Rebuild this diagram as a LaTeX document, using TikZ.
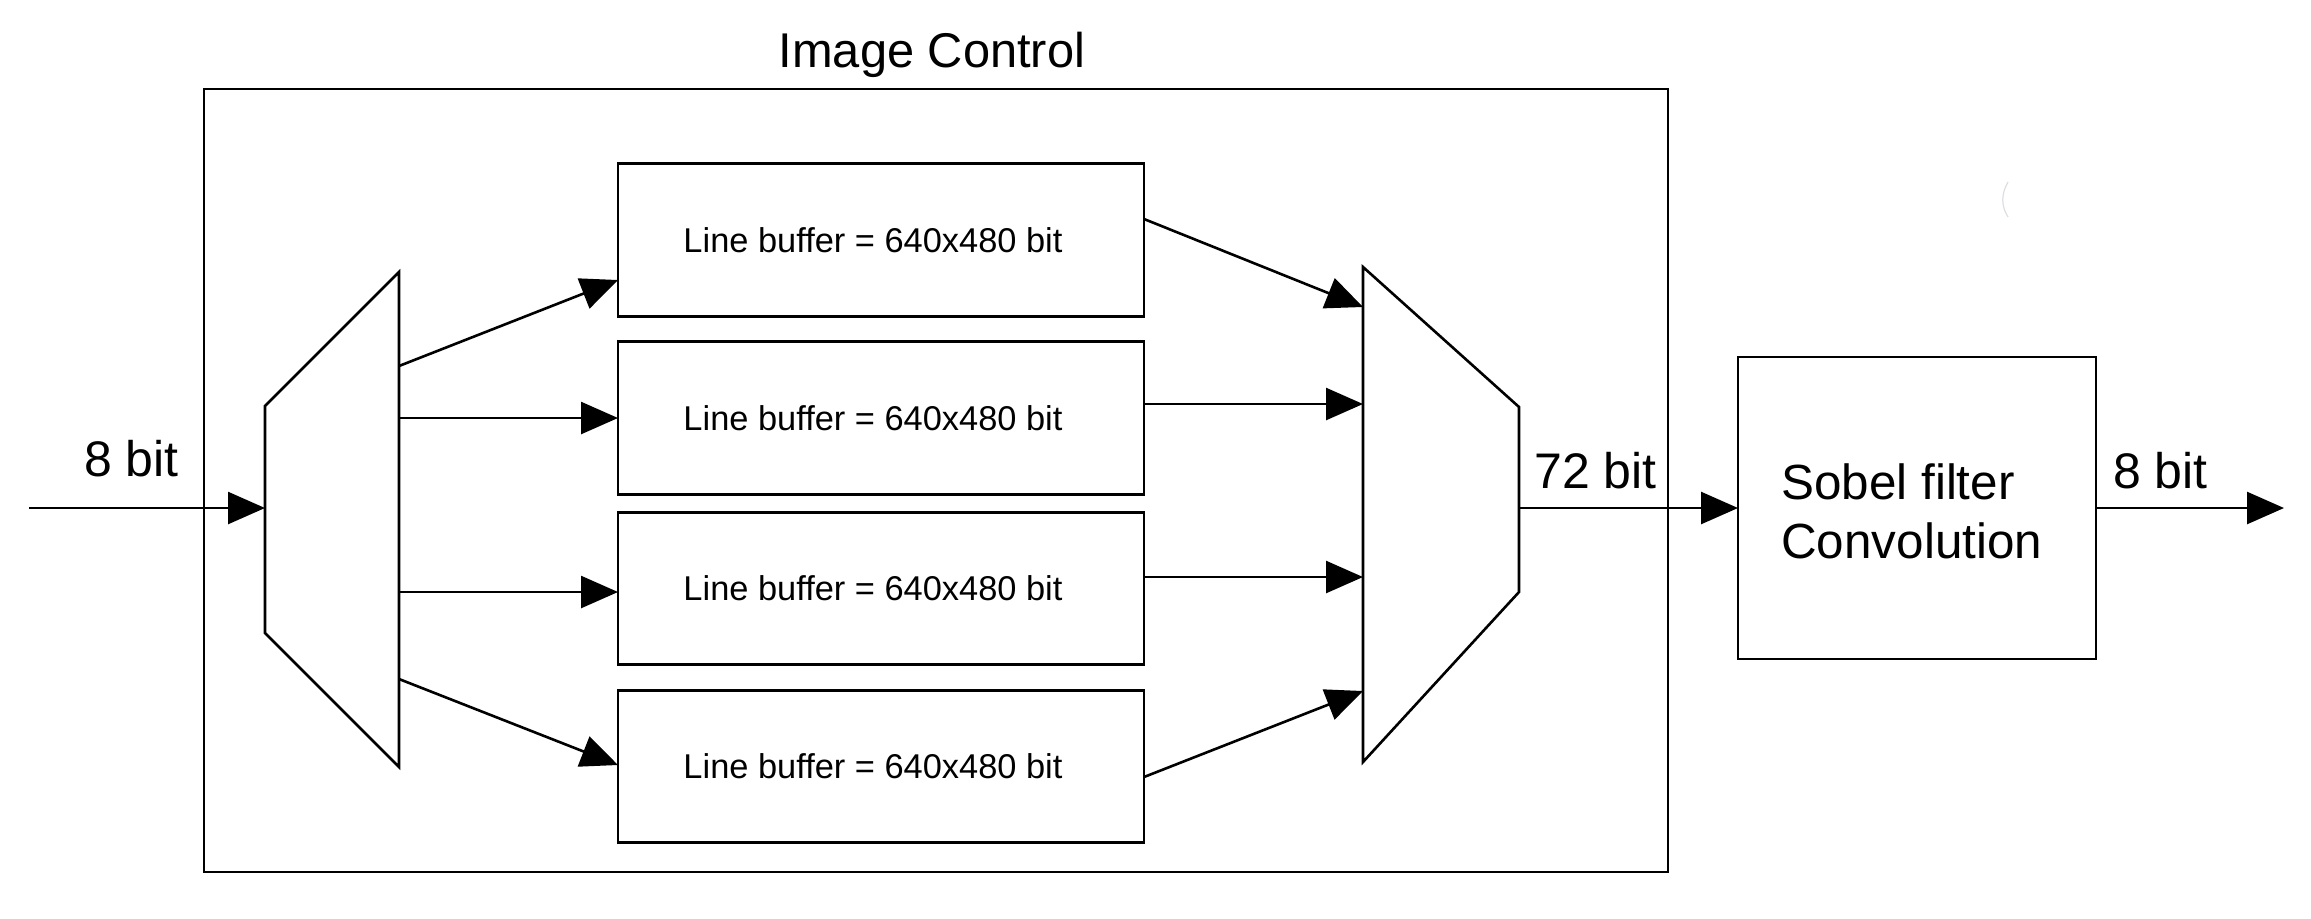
\documentclass[tikz,border=0pt]{standalone}
\usepackage{fontspec}
\setmainfont{Liberation Sans}
\usetikzlibrary{arrows.meta}
\begin{document}
\begin{tikzpicture}[x=0.5pt,y=-0.5pt,
  line width=1.3pt,
  arr/.style={-{Triangle[length=18.5pt,width=16pt]}},
  lbox/.style={draw, inner sep=0pt, outer sep=0pt, minimum width=263pt, minimum height=76.25pt, font=\fontsize{17.2}{20}\selectfont},
  blk/.style={draw, inner sep=0pt, outer sep=0pt},
  lbl/.style={anchor=base west, inner sep=0pt, font=\fontsize{25}{30}\selectfont}]
\useasboundingbox (0,0) rectangle (2311,918);

% title and outer box
\node[blk, minimum width=732pt, minimum height=391.5pt] (ctrl) at (936,480.5) {};
\node[anchor=base, inner sep=0pt, font=\fontsize{24.4}{29}\selectfont] (title) at (932,67) {Image Control};

% line buffers
\node[lbox] (lb1) at (881,240) {\hspace*{-8pt}Line buffer = 640x480 bit};
\node[lbox] (lb2) at (881,418) {\hspace*{-8pt}Line buffer = 640x480 bit};
\node[lbox] (lb3) at (881,588.5) {\hspace*{-8pt}Line buffer = 640x480 bit};
\node[lbox] (lb4) at (881,766.5) {\hspace*{-8pt}Line buffer = 640x480 bit};

% demux trapezoid
\coordinate (dA) at (265,406);
\coordinate (dB) at (399,272);
\coordinate (dC) at (399,767);
\coordinate (dD) at (265,633);
\draw (dA) -- (dB) -- (dC) -- (dD) -- cycle;

% mux trapezoid
\coordinate (mA) at (1363,267);
\coordinate (mB) at (1519,407);
\coordinate (mC) at (1519,592);
\coordinate (mD) at (1363,762);
\draw (mA) -- (mB) -- (mC) -- (mD) -- cycle;

% sobel block
\node[blk, minimum width=179pt, minimum height=151pt] (sobel) at (1917,508) {};
\node[lbl, font=\fontsize{24.7}{29}\selectfont] (s1) at (1780,499) {Sobel filter};
\node[lbl, font=\fontsize{24.7}{29}\selectfont] (s2) at (1780,558) {Convolution};

% connection points
\coordinate (in) at (29,508);
\coordinate (dmin) at (265,508);
\coordinate (d1) at (399,366);
\coordinate (d2) at (399,418);
\coordinate (d3) at (399,592);
\coordinate (d4) at (399,679);
\coordinate (lb1in) at (618,280);
\coordinate (lb3in) at (618,592);
\coordinate (lb4in) at (618,765);
\coordinate (lb1out) at (1144,219);
\coordinate (lb2out) at (1144,404);
\coordinate (lb3out) at (1144,577);
\coordinate (lb4out) at (1144,777);
\coordinate (m1) at (1363,307);
\coordinate (m2) at (1363,404);
\coordinate (m3) at (1363,577);
\coordinate (m4) at (1363,691);
\coordinate (mout) at (1519,508);
\coordinate (out) at (2284,508);

% connectors
\draw[arr] (in) -- (dmin);
\draw[arr] (d1) -- (lb1in);
\draw[arr] (d2) -- (lb2.west);
\draw[arr] (d3) -- (lb3in);
\draw[arr] (d4) -- (lb4in);
\draw[arr] (lb1out) -- (m1);
\draw[arr] (lb2out) -- (m2);
\draw[arr] (lb3out) -- (m3);
\draw[arr] (lb4out) -- (m4);
\draw[arr] (mout) -- (sobel.west);
\draw[arr] (sobel.east) -- (out);

% labels
\node[lbl] (l8in) at (83,476) {8 bit};
\node[lbl] (l72) at (1533,488) {72 bit};
\node[lbl] (l8out) at (2112,488) {8 bit};

% faint stray mark
\draw[line width=0.6pt, color=blue!8!gray!25] (2008,182) .. controls (2001,194) and (2001,206) .. (2008,217);
\end{tikzpicture}
\end{document}
